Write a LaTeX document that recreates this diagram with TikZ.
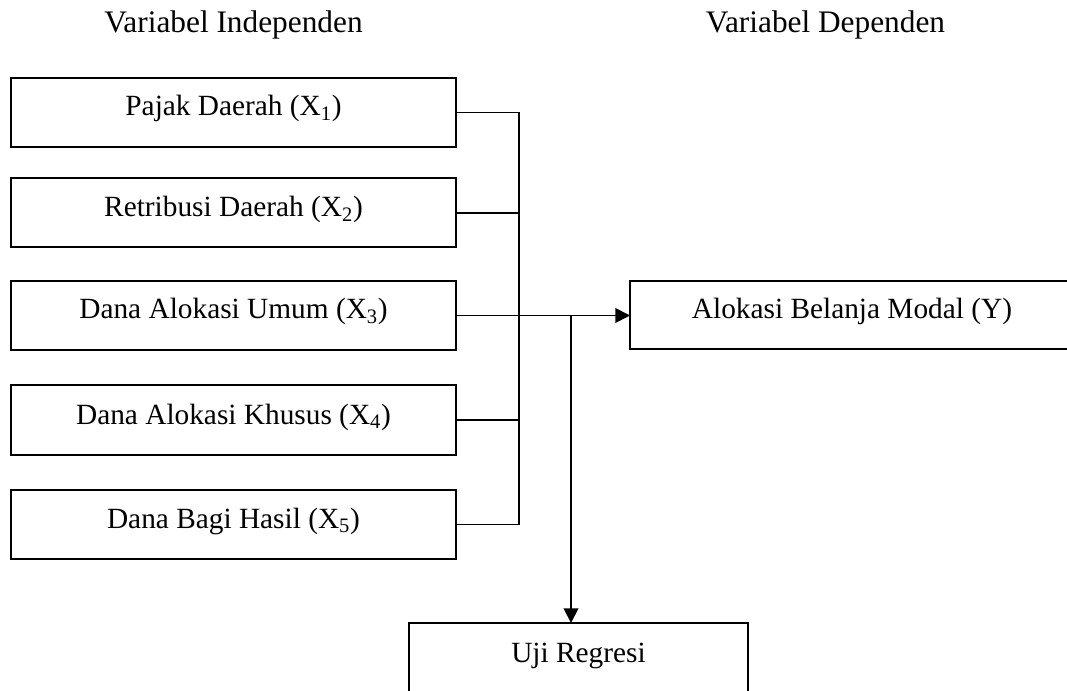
\documentclass[tikz,border=0pt]{standalone}
\usepackage{fontspec}
\setmainfont{Liberation Serif}
\usetikzlibrary{arrows.meta}
\begin{document}
\begin{tikzpicture}[x=0.75pt,y=-0.75pt,
  box/.style={draw, line width=1.5pt, inner sep=0pt, outer sep=0pt, minimum height=51.75pt},
  varbox/.style={box, minimum width=333.75pt},
  lbl/.style={anchor=base, inner sep=0pt, font=\fontsize{22}{26}\selectfont},
  head/.style={anchor=base, inner sep=0pt, font=\fontsize{23.5}{28}\selectfont},
  conn/.style={line width=1.4pt},
  arr/.style={conn, -{Triangle[length=11pt, width=11pt]}}]
\useasboundingbox (0,0) rectangle (1067,691);
% headers
\node[head] (hind) at (233.5,33) {Variabel Independen};
\node[head] (hdep) at (825.5,33) {Variabel Dependen};
% independent boxes
\node[varbox] (x1) at (233.5,112.5) {};
\node[varbox] (x2) at (233.5,213) {};
\node[varbox] (x3) at (233.5,315.5) {};
\node[varbox] (x4) at (233.5,420) {};
\node[varbox] (x5) at (233.5,524.5) {};
\node[lbl] (t1) at (233.5,116) {Pajak Daerah (X\textsubscript{1})};
\node[lbl] (t2) at (233.5,217) {Retribusi Daerah (X\textsubscript{2})};
\node[lbl] (t3) at (233.5,319) {Dana Alokasi Umum (X\textsubscript{3})};
\node[lbl] (t4) at (233.5,424) {Dana Alokasi Khusus (X\textsubscript{4})};
\node[lbl] (t5) at (233.5,528) {Dana Bagi Hasil (X\textsubscript{5})};
% dependent box
\node[box, minimum width=333pt, minimum height=51pt] (y) at (852,315.5) {};
\node[lbl] (ty) at (852,319) {Alokasi Belanja Modal (Y)};
% test box
\node[box, minimum width=254.25pt] (uji) at (578.5,657.5) {};
\node[lbl] (tu) at (578.5,662) {Uji Regresi};
% connectors
\coordinate (bus) at (519,0);
\coordinate (split) at (571,315.5);
\foreach \n in {x1,x2,x4,x5} {
  \draw[conn] (\n.east) -- (\n.east -| bus);
}
\draw[conn] (x1.east -| bus) -- (x5.east -| bus);
\draw[arr] (x3.east) -- (y.west);
\draw[arr] (split) -- (split |- uji.north);
\end{tikzpicture}
\end{document}
